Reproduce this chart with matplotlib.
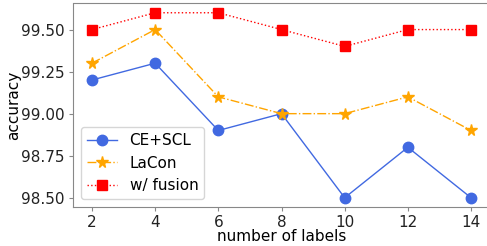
import matplotlib
matplotlib.use("Agg")
import matplotlib.pyplot as plt

# data
num_labels = [2, 4, 6, 8, 10, 12, 14]
ce_scl = [99.2, 99.3, 98.9, 99.0, 98.5, 98.8, 98.5]
lacon = [99.3, 99.5, 99.1, 99.0, 99.0, 99.1, 98.9]
fusion = [99.5, 99.6, 99.6, 99.5, 99.4, 99.5, 99.5]
yticks = [98.50, 98.75, 99.00, 99.25, 99.50]

plt.rcParams['font.size'] = 11
plt.rcParams['axes.edgecolor'] = '#888888'
plt.rcParams['xtick.color'] = '#888888'
plt.rcParams['ytick.color'] = '#888888'
plt.rcParams['xtick.labelcolor'] = '#222222'
plt.rcParams['ytick.labelcolor'] = '#222222'

fig = plt.figure(figsize=(4.87, 2.46), dpi=100)
ax = fig.add_axes([73 / 487, 39 / 246, 417 / 487, 203.5 / 246])

ax.plot(num_labels, ce_scl, color="royalblue", marker="o", markersize=7.5,
        linewidth=1, linestyle="-", label="CE+SCL")
ax.plot(num_labels, lacon, color="orange", marker="*", markersize=8.5,
        linewidth=1, linestyle="-.", label="LaCon")
ax.plot(num_labels, fusion, color="red", marker="s", markersize=7,
        linewidth=1, linestyle=":", label="w/ fusion")

ax.set_xticks(num_labels)
ax.set_yticks(yticks)
ax.set_yticklabels(["%.2f" % v for v in yticks])
ax.tick_params(length=3, pad=3)
ax.set_xlabel("number of labels", labelpad=-1)
ax.set_ylabel("accuracy", labelpad=0)
ax.legend(loc="lower left")

fig.savefig("out.png", dpi=100)
